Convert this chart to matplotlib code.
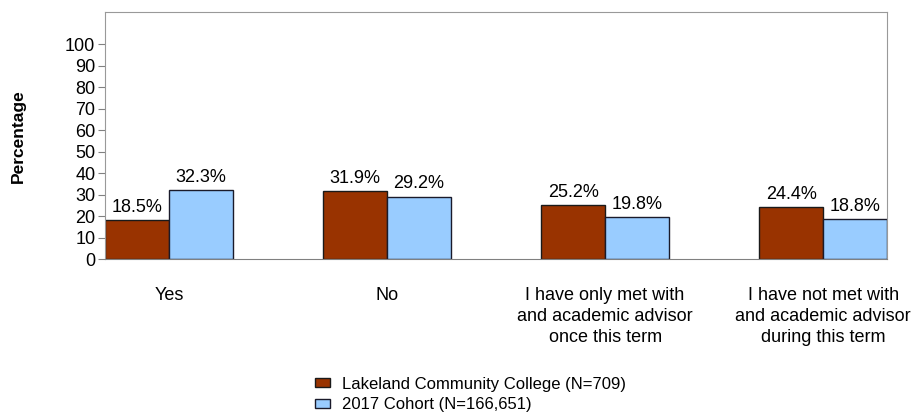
import matplotlib.pyplot as plt
import numpy as np

plt.rcParams['font.family'] = ['Liberation Sans', 'DejaVu Sans']

categories = ['Yes', 'No',
              'I have only met with\nand academic advisor\nonce this term',
              'I have not met with\nand academic advisor\nduring this term']
college = [18.5, 31.9, 25.2, 24.4]
cohort = [32.3, 29.2, 19.8, 18.8]
series_names = ['Lakeland Community College (N=709)', '2017 Cohort (N=166,651)']

fig = plt.figure(figsize=(9.14, 4.15), dpi=100)
ax = fig.add_axes([0.1149, 0.3747, 0.8556, 0.5963])

x = np.arange(len(categories))
w = 0.293
b1 = ax.bar(x - w/2, college, w, color='#993300', edgecolor='#1a1a1a', lw=1, label=series_names[0])
b2 = ax.bar(x + w/2, cohort, w, color='#99ccff', edgecolor='#1a1a2a', lw=1, label=series_names[1])

for bars, vals in ((b1, college), (b2, cohort)):
    for r, v in zip(bars, vals):
        ax.annotate('%.1f%%' % v, (r.get_x() + r.get_width()/2, v), xytext=(0, 3),
                    textcoords='offset points', ha='center', va='bottom', fontsize=13)

ax.set_xlim(-w, 3 + w)
ax.set_ylim(0, 115)
ax.set_yticks(range(0, 101, 10))
ax.set_xticks(x)
ax.set_xticklabels(categories, fontsize=13, linespacing=1.3)
ax.tick_params(axis='x', length=0, pad=20)
ax.tick_params(axis='y', length=5, color='#808080', labelsize=13, pad=2)
for s in ax.spines.values():
    s.set_color('#999999')
ax.spines['bottom'].set_color('#808080')
ax.set_ylabel('Percentage', fontsize=12.5, fontweight='bold', labelpad=28)

fig.legend(loc='lower left', bbox_to_anchor=(0.328, -0.03), frameon=False, fontsize=12,
           handlelength=0.9, handleheight=0.5, handletextpad=0.75, labelspacing=0.35)

fig.savefig('out.png', dpi=100)
